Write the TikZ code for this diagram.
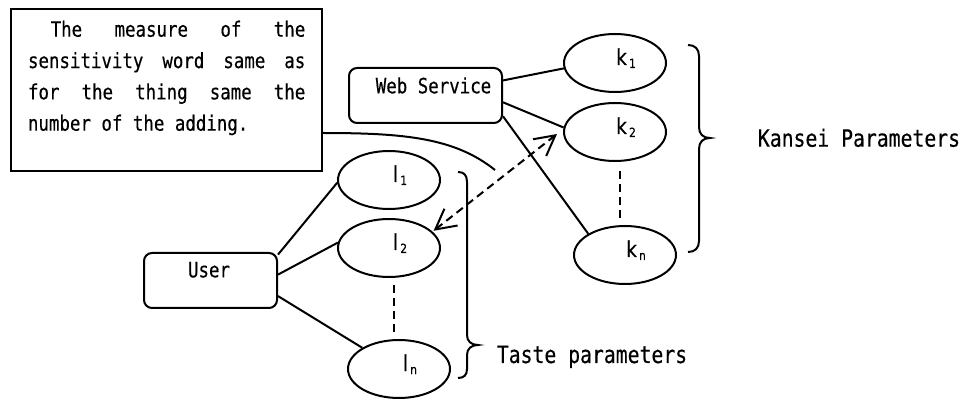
\documentclass[tikz,border=0pt]{standalone}
\usepackage{fontspec}
\newfontfamily\gothic[FakeStretch=0.83,FakeBold=0.4]{DejaVu Sans Mono}
\newfontfamily\lblsans[FakeStretch=0.85,FakeBold=0.3]{DejaVu Sans}
\usetikzlibrary{arrows.meta,shapes.geometric}
\newcommand\txtat[3]{\raisebox{#2}[0pt][0pt]{\makebox[0pt]{\hspace*{#1}#3}}}
\newcommand\sbs[1]{\raisebox{-2.25pt}{\fontsize{9.5}{10}\selectfont\,#1}}
\begin{document}
\begin{tikzpicture}[x=0.75pt,y=-0.75pt,line width=1.5pt,
  bodyfont/.style={font=\gothic\fontsize{15.75}{20}\selectfont},
  lblfont/.style={font=\gothic\fontsize{17.85}{20}\selectfont},
  notebox/.style={draw,inner sep=0pt,minimum width=233.25pt,minimum height=121.5pt},
  rbox/.style={draw,rounded corners=6pt,inner sep=0pt,minimum height=41.25pt,bodyfont},
  param/.style={draw,ellipse,inner sep=0pt,minimum width=76.5pt,minimum height=43.5pt,
    font=\lblsans\fontsize{16.5}{18}\selectfont},
  dlink/.style={dash pattern=on 6pt off 3.75pt},
  barb/.tip={Straight Barb[length=15pt,width=16pt]}
]
\useasboundingbox (0,0) rectangle (965,399);

% note box
\node[notebox] (note) at (166.5,90) {};
\node[anchor=base west,inner sep=0pt,bodyfont] (notetext) at (27,36.7)
 {\vtop{\baselineskip=23.5pt\lineskiplimit=-20pt\hsize=208pt
  \hbox to \hsize{\hspace*{17pt}The\hfill measure\hfill of\hfill the}%
  \hbox to \hsize{sensitivity\hfill word\hfill same\hfill as}%
  \hbox to \hsize{for\hfill the\hfill thing\hfill same\hfill the}%
  \hbox{number of the adding.}}};

% boxes
\node[rbox,minimum width=114.75pt] (ws) at (425.5,95.5) {\txtat{12pt}{1.65pt}{Web Service}};
\node[rbox,minimum width=99.75pt] (user) at (210.5,280.5) {\txtat{-2.25pt}{2.4pt}{User}};

% Kansei parameters
\node[param] (k1) at (615,63)  {\txtat{16.5pt}{-1.5pt}{k\sbs{1}}};
\node[param] (k2) at (615,132) {\txtat{16.5pt}{-1.5pt}{k\sbs{2}}};
\node[param] (kn) at (625,255) {\txtat{16.5pt}{-1.5pt}{k\sbs{n}}};

% Taste parameters
\node[param] (l1) at (389,180) {\txtat{16.5pt}{-1.5pt}{l\sbs{1}}};
\node[param] (l2) at (389,248) {\txtat{16.5pt}{-1.5pt}{l\sbs{2}}};
\node[param] (ln) at (399,369) {\txtat{16.5pt}{-1.5pt}{l\sbs{n}}};

% connectors
\draw (ws.11) -- (k1.186);
\draw (ws.-5) -- (k2.175);
\draw (ws.-15) -- (kn.150);
\draw (user.21) -- (l1.183);
\draw (user.5) -- (l2.174);
\draw (user.-13) -- (ln.150);

\draw[dlink] ([xshift=3.75pt,yshift=-7pt]k2.south) -- ([xshift=-3.75pt,yshift=2.25pt]kn.north);
\draw[dlink] ([xshift=3.75pt,yshift=-5.25pt]l2.south) -- ([xshift=-3.75pt,yshift=3pt]ln.north);

\draw[dlink,barb-barb] ([xshift=1.5pt]l2.22) -- ([xshift=-4.5pt,yshift=-1.5pt]k2.west);

% callout line
\coordinate (callout) at (495,170);
\draw ([yshift=-32.25pt]note.east) .. controls (405,133) and (455,138) .. (callout);

% braces
\draw (688,45) .. controls (695,45) and (699,49) .. (699,56) -- (699,127)
  .. controls (699,134) and (703,138) .. (710,138)
  .. controls (703,138) and (699,142) .. (699,149) -- (699,241)
  .. controls (699,248) and (695,252) .. (688,252);
\draw (458,172) .. controls (464,172) and (467,175) .. (467,182) -- (467,335)
  .. controls (467,341) and (471,345) .. (478,345)
  .. controls (471,345) and (467,349) .. (467,355) -- (467,369)
  .. controls (467,375) and (464,378) .. (458,378);

% labels
\node[lblfont,anchor=base] (kansei) at (859,146.7) {Kansei Parameters};
\node[lblfont,anchor=base] (taste) at (592,363) {Taste parameters};
\end{tikzpicture}
\end{document}
